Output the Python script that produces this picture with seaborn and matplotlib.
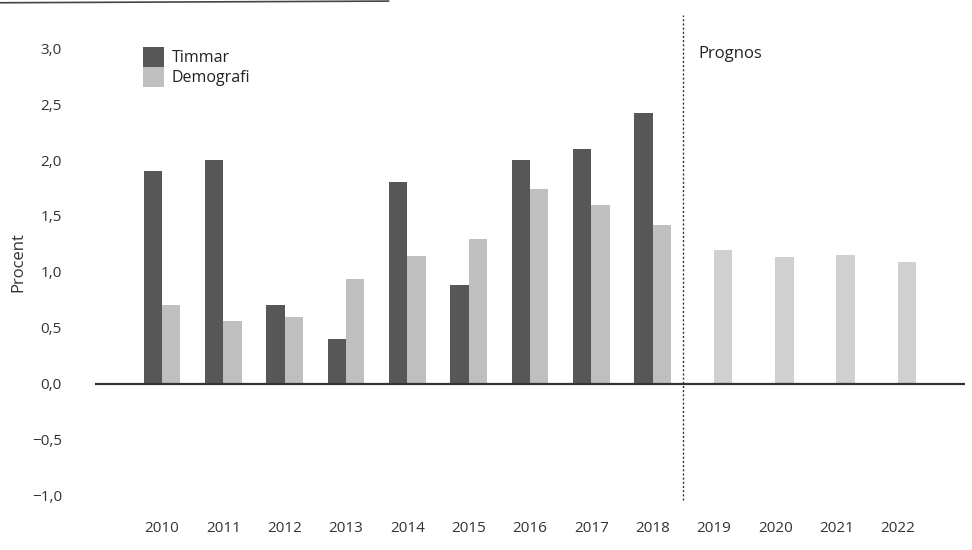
import matplotlib
matplotlib.use("Agg")
import matplotlib.pyplot as plt
import seaborn as sns
import pandas as pd
import numpy as np

years = ["2010", "2011", "2012", "2013", "2014", "2015", "2016", "2017", "2018",
         "2019", "2020", "2021", "2022"]
timmar = [1.90, 2.00, 0.70, 0.40, 1.80, 0.88, 2.00, 2.10, 2.42,
          np.nan, np.nan, np.nan, np.nan]
demografi = [0.70, 0.56, 0.60, 0.94, 1.14, 1.29, 1.74, 1.60, 1.42,
             1.20, 1.13, 1.15, 1.09]
yticks = [-1.0, -0.5, 0.0, 0.5, 1.0, 1.5, 2.0, 2.5, 3.0]

sns.set_theme(style="white")
plt.rcParams["font.family"] = ["Open Sans", "DejaVu Sans"]

df = pd.DataFrame({
    "År": years * 2,
    "Procent": timmar + demografi,
    "Serie": ["Timmar"] * len(years) + ["Demografi"] * len(years),
})

fig = plt.figure(figsize=(9.72, 5.5), dpi=100)
ax = fig.add_axes([0.098, 0.073, 0.895, 0.90])

sns.barplot(data=df, x="År", y="Procent", hue="Serie",
            palette={"Timmar": "#575757", "Demografi": "#bfbfbf"},
            width=0.6, ax=ax, errorbar=None, saturation=1, linewidth=0)

# lighter forecast bars
demo_bars = list(ax.containers[1])
for p in demo_bars[9:]:
    p.set_facecolor("#d0d0d0")

ax.set_xlim(-1.09, 13.1)
ax.set_ylim(-1.13, 3.3)
ax.set_yticks(yticks)
ax.set_yticklabels([f"{v:.1f}".replace(".", ",").replace("-", "\u2212") for v in yticks],
                   fontsize=11, color="#333333")
ax.tick_params(axis="x", labelsize=11, labelcolor="#333333", length=0, pad=8)
ax.tick_params(axis="y", length=0, pad=24)
for s in ax.spines.values():
    s.set_visible(False)
ax.set_xlabel("")
ax.set_ylabel("Procent", fontsize=12, color="#333333", labelpad=4)

ax.axhline(0, color="#333333", lw=1.6, zorder=3)
ax.axvline(8.5, color="#333333", lw=1.0, ls=(0, (1.5, 1.5)), ymin=0.02, ymax=1.0)
ax.text(8.75, 2.95, "Prognos", fontsize=12, color="#222222", va="center")

leg = ax.legend(loc="upper left", bbox_to_anchor=(0.055, 0.935), frameon=False,
                fontsize=11.5, handlelength=1.3, handleheight=1.5,
                handletextpad=0.5, labelspacing=0.05, borderpad=0,
                borderaxespad=0)
for t in leg.get_texts():
    t.set_color("#222222")

fig.add_artist(plt.Line2D([0, 0.40], [0.995, 0.998], color="#444444", lw=1.2,
                          transform=fig.transFigure))

fig.savefig("out.png", dpi=100)
